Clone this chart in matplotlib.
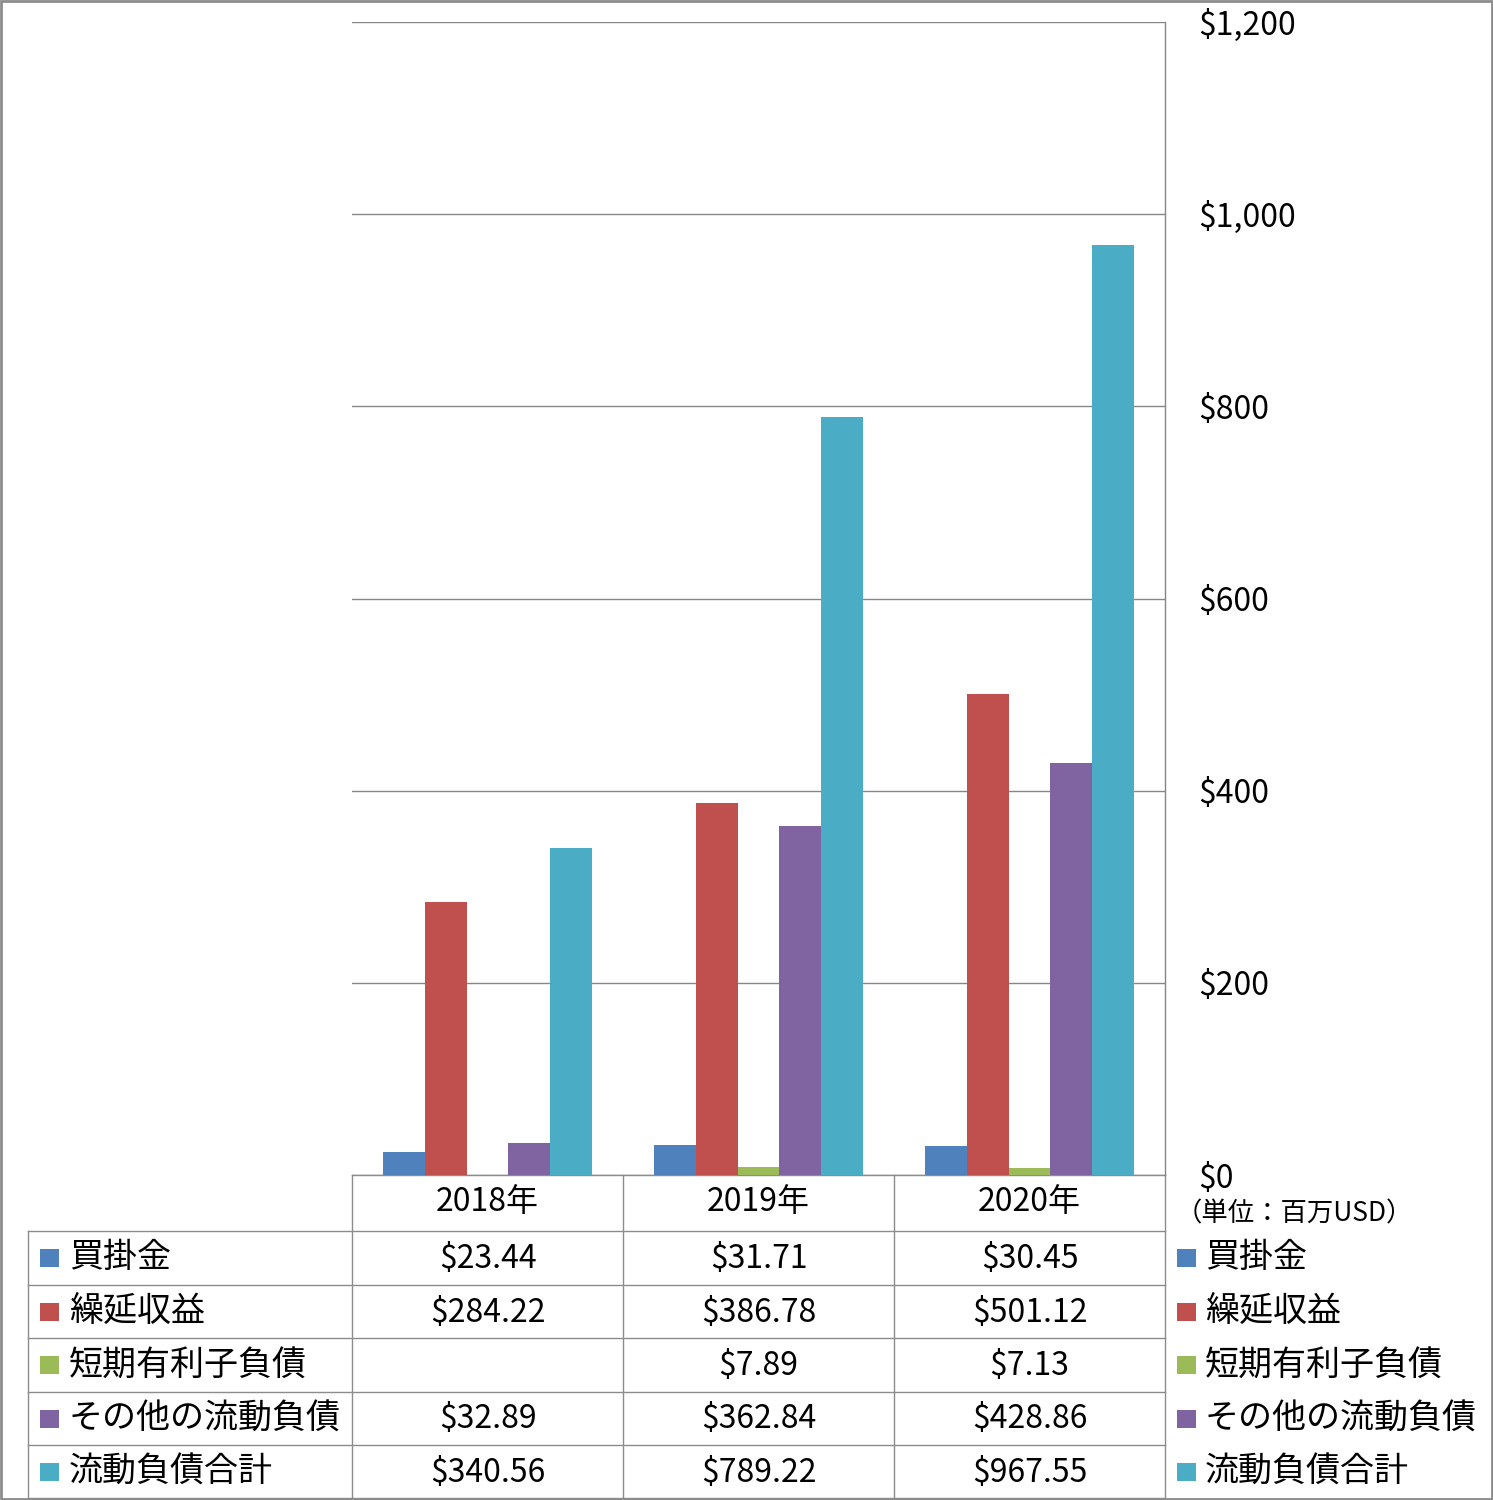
import numpy as np
import matplotlib
matplotlib.use("Agg")
import matplotlib.pyplot as plt
from matplotlib.patches import Rectangle

plt.rcParams['font.family'] = ['Noto Sans CJK JP', 'DejaVu Sans']

categories = ['2018年', '2019年', '2020年']
series_names = ['買掛金', '繰延収益', '短期有利子負債', 'その他の流動負債', '流動負債合計']
accounts_payable = [23.44, 31.71, 30.45]
deferred_revenue = [284.22, 386.78, 501.12]
short_term_debt = [np.nan, 7.89, 7.13]
other_current = [32.89, 362.84, 428.86]
total_current = [340.56, 789.22, 967.55]
series_values = [accounts_payable, deferred_revenue, short_term_debt, other_current, total_current]
colors = ['#4F81BD', '#C0504D', '#9BBB59', '#8064A2', '#4BACC6']
yticks = [0, 200, 400, 600, 800, 1000, 1200]
unit_label = '（単位：百万USD）'

W, H = 1493, 1500
fig = plt.figure(figsize=(W / 100, H / 100), dpi=100)
fig.patch.set_facecolor('white')

# pixel geometry
px_l, px_r, px_t, px_b = 352, 1165, 22, 1175
ax = fig.add_axes([px_l / W, (H - px_b) / H, (px_r - px_l) / W, (px_b - px_t) / H])
ax.set_facecolor('none')

n = len(series_names)
bw = 1 / (n + 1.5)
x = np.arange(len(categories))
for i, (vals, c) in enumerate(zip(series_values, colors)):
    v = np.nan_to_num(np.array(vals, dtype=float), nan=0.0)
    ax.bar(x + (i - (n - 1) / 2) * bw, v, width=bw, color=c, zorder=3, linewidth=0)

ax.set_xlim(-0.5, len(categories) - 0.5)
ax.set_ylim(0, 1200)
ax.set_yticks(yticks)
ax.set_yticklabels(['$' + f'{t:,}' for t in yticks], fontsize=23)
ax.yaxis.tick_right()
ax.tick_params(axis='y', length=0, pad=24)
ax.set_xticks([])
ax.grid(axis='y', color='#868686', linewidth=1, zorder=0)
for s in ['left', 'top', 'bottom']:
    ax.spines[s].set_visible(False)
ax.spines['right'].set_color('#868686')
ax.spines['right'].set_linewidth(1)

# overlay for table and legend
ov = fig.add_axes([0, 0, 1, 1], zorder=-1)
ov.set_xlim(0, W)
ov.set_ylim(H, 0)
ov.axis('off')
lc = '#8c8c8c'

col_edges = [352, 623, 894, 1165]
row_edges = [1231, 1285, 1338, 1392, 1445, 1498]

# horizontal lines
ov.plot([352, 1165], [1175, 1175], color=lc, lw=1)
for y in row_edges:
    ov.plot([28, 1165], [y, y], color=lc, lw=1)
# vertical lines
for xe in col_edges:
    ov.plot([xe, xe], [1175, 1498], color=lc, lw=1)
ov.plot([28, 28], [1231, 1498], color=lc, lw=1)

# header
for j, cat in enumerate(categories):
    xc = (col_edges[j] + col_edges[j + 1]) / 2
    ov.text(xc, 1202, cat, ha='center', va='center', fontsize=23)

# rows
for i, (name, vals, c) in enumerate(zip(series_names, series_values, colors)):
    yc = (row_edges[i] + row_edges[i + 1]) / 2
    ov.add_patch(Rectangle((40, yc - 9), 19, 18, color=c, lw=0))
    ov.text(69, yc, name, ha='left', va='center', fontsize=24.5)
    ov.add_patch(Rectangle((1177, yc - 9), 19, 18, color=c, lw=0))
    ov.text(1205, yc, name, ha='left', va='center', fontsize=24.5)
    for j, v in enumerate(vals):
        if np.isnan(v):
            continue
        xc = (col_edges[j] + col_edges[j + 1]) / 2
        ov.text(xc, yc + 1, f'${v:,.2f}', ha='center', va='center', fontsize=23)

ov.text(1176, 1214, unit_label, ha='left', va='center', fontsize=19)

# figure border
ov.add_patch(Rectangle((1, 1), W - 2, H - 2, fill=False, edgecolor='#8c8c8c', lw=2))

fig.savefig('out.png', dpi=100)
